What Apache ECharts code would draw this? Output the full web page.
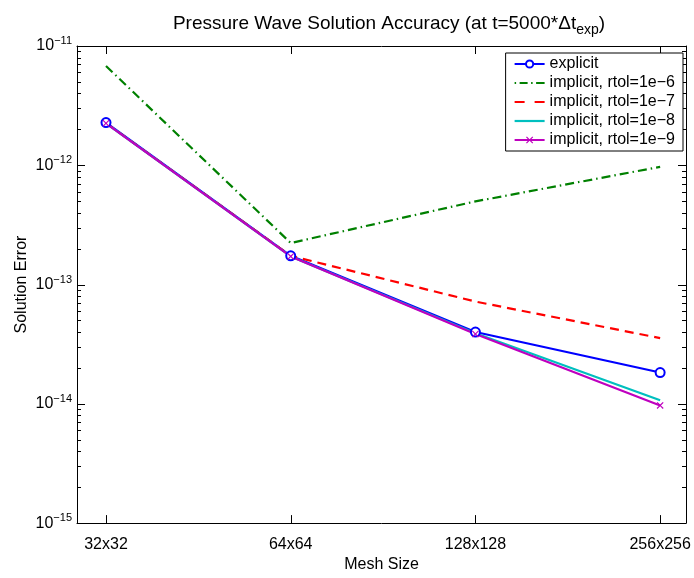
<!DOCTYPE html>
<html><head><meta charset="utf-8">
<script src="https://cdn.jsdelivr.net/npm/echarts@6/dist/echarts.min.js"></script>
<style>html,body{margin:0;padding:0;background:#fff}#c{width:694px;height:578px}</style>
</head><body><div id="c"></div>
<script>
const categories = ['32x32', '64x64', '128x128', '256x256'];
const explicitVals = [2.28e-12, 1.74e-13, 4.0e-14, 1.83e-14];
const rtol6Vals = [6.8e-12, 2.23e-13, 4.98e-13, 9.7e-13];
const rtol7Vals = [2.26e-12, 1.74e-13, 7.2e-14, 3.56e-14];
const rtol8Vals = [2.25e-12, 1.72e-13, 3.9e-14, 1.07e-14];
const rtol9Vals = [2.25e-12, 1.72e-13, 3.85e-14, 9.7e-15];
const yMajor = [1e-15, 1e-14, 1e-13, 1e-12, 1e-11];

const minorVals = [];
for (let e = -15; e < -11; e++) for (let m = 2; m <= 9; m++) minorVals.push(parseFloat((m + 'e' + e)));
const idx = categories.map((c, i) => i);
const pairs = v => v.map((y, i) => [i, y]);
const FONT = '"Liberation Sans", Arial, Helvetica, sans-serif';
const xMark = 'path://M0,1.2 L1.2,0 L5,3.8 L8.8,0 L10,1.2 L6.2,5 L10,8.8 L8.8,10 L5,6.2 L1.2,10 L0,8.8 L3.8,5 Z';
const names = ['explicit', 'implicit, rtol=1e\u22126', 'implicit, rtol=1e\u22127', 'implicit, rtol=1e\u22128', 'implicit, rtol=1e\u22129'];
const iconDashDot = 'path://M0,0 h1.5 v2.2 h-1.5 Z M5,0 h8 v2.2 h-8 Z M16.5,0 h1.5 v2.2 h-1.5 Z M21.5,0 h8.5 v2.2 h-8.5 Z';
const iconDash = 'path://M0,0 h10 v2.2 h-10 Z M20,0 h10 v2.2 h-10 Z';
const iconSolid = 'path://M0,0 h30 v2.2 h-30 Z';

// tick marks: [x, y, kind]  kind 0 = y major, 1 = y minor, 2 = x major
const tickData = []
  .concat(yMajor.map(v => [0, v, 0]))
  .concat(minorVals.map(v => [0, v, 1]))
  .concat(idx.map(i => [i, 1e-13, 2]));

function renderTick(params, api) {
  const cs = params.coordSys;
  const kind = api.value(2);
  const st = {stroke: '#000', lineWidth: 1};
  if (kind === 2) {
    const px = Math.round(api.coord([api.value(0), api.value(1)])[0]) + 0.5;
    const b = cs.y + cs.height;
    return {type: 'group', children: [
      {type: 'line', shape: {x1: px, y1: b, x2: px, y2: b - 8}, style: st},
      {type: 'line', shape: {x1: px, y1: cs.y, x2: px, y2: cs.y + 8}, style: st}
    ]};
  }
  const py = Math.round(api.coord([api.value(0), api.value(1)])[1]) + 0.5;
  const len = kind === 0 ? 8 : 4;
  const r = cs.x + cs.width;
  return {type: 'group', children: [
    {type: 'line', shape: {x1: cs.x, y1: py, x2: cs.x + len, y2: py}, style: st},
    {type: 'line', shape: {x1: r, y1: py, x2: r - len, y2: py}, style: st}
  ]};
}

const chart = echarts.init(document.getElementById('c'));
const yBase = {type: 'log', logBase: 10, min: 1e-15, max: 1e-11, splitLine: {show: false}, minorTick: {show: false}};
const xBase = {type: 'value', min: -0.157, max: 3.14, splitLine: {show: false}};
chart.setOption({
  animation: false,
  title: {
    text: 'Pressure Wave Solution Accuracy (at t=5000*\u0394t{sub|exp})',
    left: 384, top: 6, textAlign: 'center',
    textStyle: {fontFamily: FONT, fontSize: 19, fontWeight: 'normal', color: '#000',
      rich: {sub: {fontFamily: FONT, fontSize: 14, verticalAlign: 'bottom', padding: [12, 0, 0, 0]}}}
  },
  grid: {left: 77, top: 46, right: 8, bottom: 50},
  legend: {
    orient: 'vertical', right: 11, top: 53, itemWidth: 30, itemHeight: 9, itemGap: 3,
    padding: [3, 8, 3, 8], borderColor: '#000', borderWidth: 1, backgroundColor: '#fff',
    textStyle: {fontFamily: FONT, fontSize: 16, lineHeight: 16, color: '#000'},
    data: [{name: names[0]}, {name: names[1], icon: iconDashDot}, {name: names[2], icon: iconDash},
      {name: names[3], icon: iconSolid}, {name: names[4]}]
  },
  xAxis: [
    Object.assign({}, xBase, {position: 'bottom', name: 'Mesh Size', nameLocation: 'middle', nameGap: 32,
      nameTextStyle: {fontFamily: FONT, fontSize: 16, color: '#000'},
      axisLine: {show: true, onZero: false, lineStyle: {color: '#000'}},
      axisTick: {show: false},
      axisLabel: {show: true, margin: 13, customValues: idx, fontFamily: FONT, fontSize: 16, color: '#000',
        formatter: v => categories[Math.round(v)]}}),
    Object.assign({}, xBase, {position: 'top',
      axisLine: {show: true, onZero: false, lineStyle: {color: '#000'}},
      axisTick: {show: false}, axisLabel: {show: false}})
  ],
  yAxis: [
    Object.assign({}, yBase, {position: 'left', name: 'Solution Error', nameLocation: 'middle', nameGap: 47,
      nameMoveOverlap: false,
      nameTextStyle: {fontFamily: FONT, fontSize: 16, color: '#000'},
      axisLine: {show: true, onZero: false, lineStyle: {color: '#000'}},
      axisTick: {show: false},
      axisLabel: {show: true, margin: 5, customValues: yMajor, fontFamily: FONT, fontSize: 16, color: '#000',
        formatter: v => '10{sup|\u2212' + Math.round(-Math.log10(v)) + '}',
        rich: {sup: {fontFamily: FONT, fontSize: 11, verticalAlign: 'top', padding: [0, 0, 10, 0]}}}}),
    Object.assign({}, yBase, {position: 'right',
      axisLine: {show: true, onZero: false, lineStyle: {color: '#000'}},
      axisTick: {show: false}, axisLabel: {show: false}})
  ],
  series: [
    {name: names[0], type: 'line', data: pairs(explicitVals), color: '#0000ff',
      symbol: 'emptyCircle', symbolSize: 9, showSymbol: true,
      lineStyle: {width: 2.2, color: '#0000ff'}, itemStyle: {color: '#0000ff', borderWidth: 2, borderColor: '#0000ff'}},
    {name: names[1], type: 'line', data: pairs(rtol6Vals), color: '#008000',
      symbol: 'none', lineStyle: {width: 2.2, color: '#008000', type: [9, 4, 1.5, 4]}},
    {name: names[2], type: 'line', data: pairs(rtol7Vals), color: '#ff0000',
      symbol: 'none', lineStyle: {width: 2.2, color: '#ff0000', type: [9, 6]}},
    {name: names[3], type: 'line', data: pairs(rtol8Vals), color: '#00bfbf',
      symbol: 'none', lineStyle: {width: 2.2, color: '#00bfbf'}},
    {name: names[4], type: 'line', data: pairs(rtol9Vals), color: '#bf00bf',
      symbol: xMark, symbolSize: 7, showSymbol: true,
      lineStyle: {width: 2.2, color: '#bf00bf'}, itemStyle: {color: '#bf00bf'}},
    {name: 'ticks', type: 'custom', data: tickData, renderItem: renderTick, silent: true, z: 1,
      encode: {x: 0, y: 1}, clip: false, tooltip: {show: false}}
  ]
});
</script></body></html>
